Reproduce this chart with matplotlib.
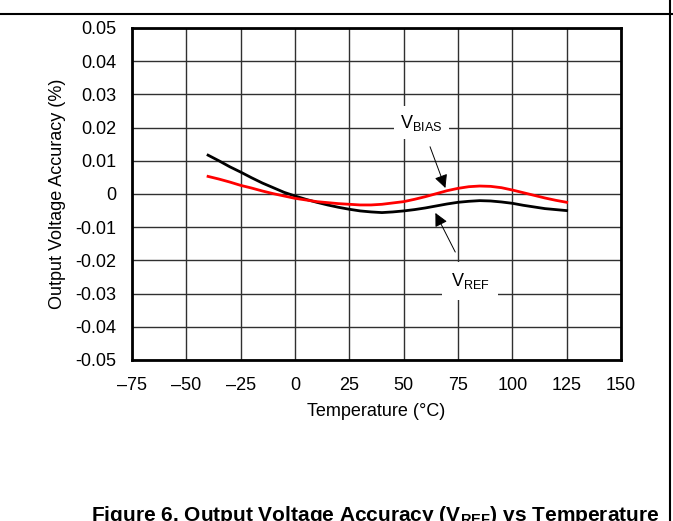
import matplotlib
matplotlib.use("Agg")
import matplotlib.pyplot as plt

plt.rcParams['font.family'] = ['Liberation Sans', 'DejaVu Sans']

# temperature points (°C)
temp = [-40, -35, -30, -25, -20, -15, -10, -5, 0, 5, 10, 15, 20, 25, 30, 35, 40, 45,
        50, 55, 60, 65, 70, 75, 80, 85, 90, 95, 100, 105, 110, 115, 120, 125]
# VREF accuracy (%) - black curve
vref = [0.0117, 0.0100, 0.0082, 0.0066, 0.0049, 0.0033, 0.0019, 0.0005, -0.0006,
        -0.0016, -0.0025, -0.0033, -0.0040, -0.0046, -0.0051, -0.0054, -0.0056, -0.0054,
        -0.0051, -0.0047, -0.0042, -0.0036, -0.0030, -0.0025, -0.0022, -0.0020, -0.0021,
        -0.0024, -0.0028, -0.0034, -0.0039, -0.0044, -0.0047, -0.0050]
# VBIAS accuracy (%) - red curve
vbias = [0.0053, 0.0045, 0.0036, 0.0026, 0.0018, 0.0009, 0.0001, -0.0006, -0.0013,
         -0.0018, -0.0023, -0.0026, -0.0029, -0.0031, -0.0033, -0.0033, -0.0031, -0.0027,
         -0.0023, -0.0016, -0.0008, 0.0001, 0.0010, 0.0017, 0.0022, 0.0024, 0.0023,
         0.0019, 0.0012, 0.0004, -0.0004, -0.0012, -0.0019, -0.0025]

xticks = [-75, -50, -25, 0, 25, 50, 75, 100, 125, 150]
xticklabels = ['\u201375', '\u201350', '\u201325', '0', '25', '50', '75', '100', '125', '150']
yticks = [0.05, 0.04, 0.03, 0.02, 0.01, 0, -0.01, -0.02, -0.03, -0.04, -0.05]
yticklabels = ['0.05', '0.04', '0.03', '0.02', '0.01', '0', '-0.01', '-0.02', '-0.03', '-0.04', '-0.05']

fig = plt.figure(figsize=(6.73, 5.21), dpi=100)
ax = fig.add_axes([132 / 673, 1 - 360 / 521, (621 - 132) / 673, (360 - 28) / 521])

ax.plot(temp, vref, color='black', lw=2, zorder=3)
ax.plot(temp, vbias, color='red', lw=2, zorder=4)

ax.set_xlim(-75, 150)
ax.set_ylim(-0.05, 0.05)
ax.set_xticks(xticks)
ax.set_xticklabels(xticklabels)
ax.set_yticks(yticks)
ax.set_yticklabels(yticklabels)
ax.tick_params(length=0, labelsize=13)
ax.tick_params(axis='x', pad=12)
ax.tick_params(axis='y', pad=11)
ax.grid(True, color='#303030', lw=1)
ax.set_axisbelow(True)
for s in ax.spines.values():
    s.set_linewidth(2)

ax.set_xlabel('Temperature (°C)', fontsize=13, labelpad=7)
ax.set_ylabel('Output Voltage Accuracy (%)', fontsize=13, labelpad=7)

# annotations
ax.annotate('V$_{\\mathregular{BIAS}}$', xy=(69.2, 0.0018), xytext=(58, 0.0215),
            fontsize=13, ha='center', va='center', zorder=5,
            bbox=dict(boxstyle='square,pad=0.35', fc='white', ec='none'),
            arrowprops=dict(arrowstyle='-|>', color='black', lw=0.7,
                            mutation_scale=20, shrinkA=6, shrinkB=0))
ax.annotate('V$_{\\mathregular{REF}}$', xy=(64.6, -0.0057), xytext=(80.5, -0.0262),
            fontsize=13, ha='center', va='center', zorder=5,
            bbox=dict(boxstyle='square,pad=0.5', fc='white', ec='none'),
            arrowprops=dict(arrowstyle='-|>', color='black', lw=0.7,
                            mutation_scale=20, shrinkA=8, shrinkB=0))

# frame lines of the page
fig.add_artist(plt.Line2D([0, 1], [1 - 14 / 521, 1 - 14 / 521], color='black', lw=1.5,
                          transform=fig.transFigure))
fig.add_artist(plt.Line2D([670 / 673, 670 / 673], [0, 1], color='black', lw=1.5,
                          transform=fig.transFigure))

fig.text(375 / 673, 1 - 504 / 521, 'Figure 6. Output Voltage Accuracy (V$_{\\mathregular{REF}}$) vs Temperature',
         ha='center', va='top', fontsize=15, fontweight='bold')

fig.savefig('out.png', dpi=100)
